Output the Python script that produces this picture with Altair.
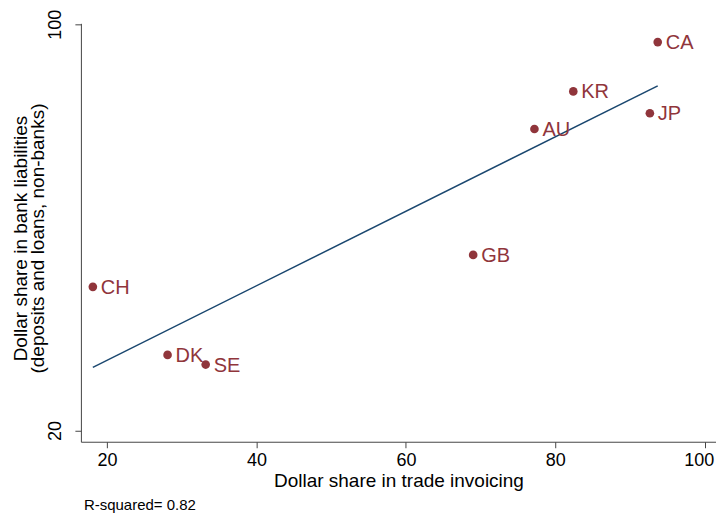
import altair as alt
import pandas as pd

countries = ["CA", "KR", "JP", "AU", "GB", "CH", "DK", "SE"]
trade_share = [93.7, 82.4, 92.65, 77.2, 69.0, 18.1, 28.1, 33.2]
bank_share = [96.5, 86.8, 82.5, 79.4, 54.6, 48.3, 34.9, 33.0]
x_ticks = [20, 40, 60, 80, 100]
y_ticks = [20, 100]

df = pd.DataFrame({"country": countries, "trade": trade_share, "bank": bank_share})

FONT = "Liberation Sans"
MAROON = "#90353b"
NAVY = "#1a476f"

xscale = alt.Scale(domain=[16.5, 101.5], nice=False, zero=False)
yscale = alt.Scale(domain=[17.8, 100.2], nice=False, zero=False)

xaxis = alt.Axis(
    values=x_ticks, grid=False, title="Dollar share in trade invoicing",
    tickSize=6, labelPadding=4, labelFontSize=18, titleFontSize=19,
    titleFontWeight="normal", titlePadding=2, domainColor="#444", tickColor="#444",
    labelColor="#000", titleColor="#000", labelFont=FONT, titleFont=FONT,
    labelFlush=15, labelFlushOffset=9,
)
yaxis = alt.Axis(
    values=y_ticks, grid=False,
    title=["Dollar share in bank liabilities", "(deposits and loans, non-banks)"],
    tickSize=6, labelPadding=10, labelAngle=270, labelAlign="center", labelBaseline="bottom",
    labelFontSize=18, titleFontSize=19, titleFontWeight="normal", titleLineHeight=17,
    titleAngle=270, titleBaseline="top", titleAlign="center", titleX=-69, titleY=215,
    domainColor="#444", tickColor="#444", labelColor="#000", titleColor="#000",
    labelFont=FONT, titleFont=FONT, labelFlush=False,
)

base = alt.Chart(df)

points = base.mark_circle(size=75, color=MAROON, opacity=1).encode(
    x=alt.X("trade:Q", scale=xscale, axis=xaxis),
    y=alt.Y("bank:Q", scale=yscale, axis=yaxis),
)

labels = base.mark_text(align="left", baseline="middle", dx=8, dy=1, fontSize=20,
                        font=FONT, color=MAROON).encode(
    x=alt.X("trade:Q", scale=xscale),
    y=alt.Y("bank:Q", scale=yscale),
    text="country:N",
)

fit = base.transform_regression("trade", "bank").mark_line(
    color=NAVY, strokeWidth=1.5
).encode(
    x=alt.X("trade:Q", scale=xscale),
    y=alt.Y("bank:Q", scale=yscale),
)

chart = alt.layer(fit, points, labels).properties(
    width=636, height=419,
    title=alt.TitleParams("R-squared= 0.82", orient="bottom", anchor="start",
                          fontSize=15, fontWeight="normal", font=FONT, color="#000",
                          offset=7, frame="group", dx=3),
    autosize=alt.AutoSizeParams(type="none"),
    padding={"left": 73, "top": 15, "right": 0, "bottom": 73},
).configure_view(stroke=None)

chart.save("out.html", embed_options={"renderer": "svg", "actions": False})
